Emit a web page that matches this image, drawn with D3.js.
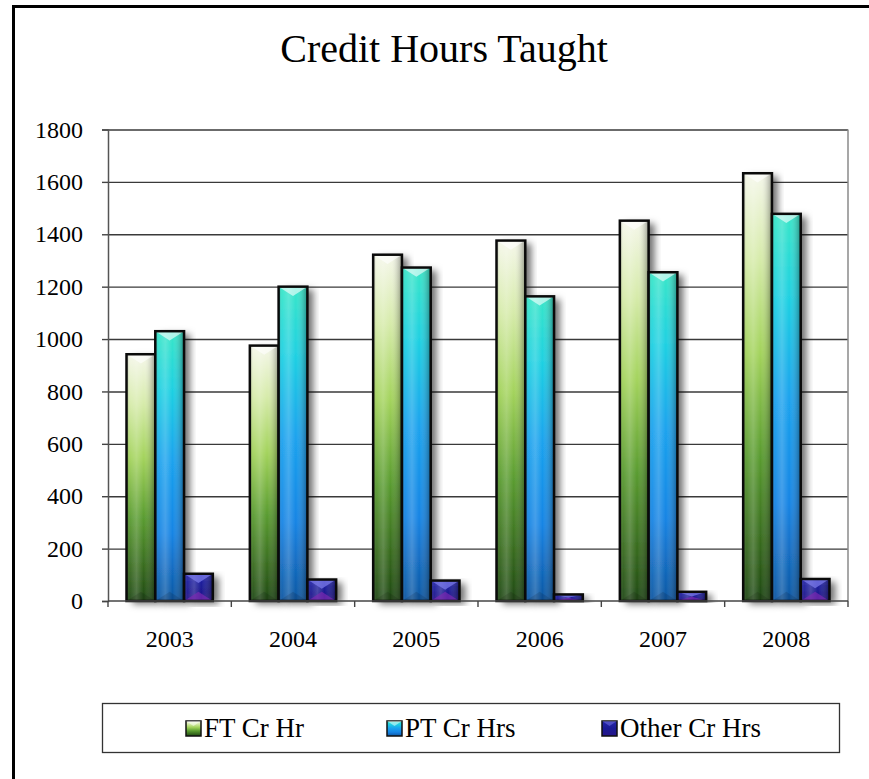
<!DOCTYPE html>
<html><head><meta charset="utf-8">
<script src="https://cdn.jsdelivr.net/npm/d3@7"></script>
<style>
html,body{margin:0;padding:0;background:#fff;}
svg{display:block;}
text{font-family:"Liberation Serif","DejaVu Serif",serif;fill:#000;}
</style></head>
<body>
<svg id="chart" width="869" height="779"></svg>
<script>
const years = ["2003","2004","2005","2006","2007","2008"];
const seriesNames = ["FT Cr Hr","PT Cr Hrs","Other Cr Hrs"];
const ftValues = [942, 975, 1322, 1376, 1452, 1633];
const ptValues = [1030, 1200, 1273, 1163, 1255, 1478];
const otherValues = [104, 82, 78, 25, 35, 84];
const yTicks = [0,200,400,600,800,1000,1200,1400,1600,1800];

const allValues = [ftValues, ptValues, otherValues];
const svg = d3.select("#chart");
const W = 869, H = 779;
const plot = {left:108, right:848, top:129.5, bottom:601};

const defs = svg.append("defs");
const grads = [
  {id:"g0", stops:[[0,"#f5f7ea"],[0.2,"#d6ebaa"],[0.42,"#a3d35c"],[0.66,"#5a9c30"],[1,"#1f4812"]]},
  {id:"g1", stops:[[0,"#38e6c8"],[0.22,"#1fd0e2"],[0.48,"#1aa2ee"],[0.75,"#1684e4"],[1,"#0e56a2"]]},
  {id:"g2", stops:[[0,"#2626aa"],[0.5,"#1a1a94"],[1,"#26168a"]]}
];
grads.forEach(g=>{
  const lg = defs.append("linearGradient").attr("id",g.id).attr("x1",0).attr("y1",0).attr("x2",0).attr("y2",1);
  g.stops.forEach(s=>lg.append("stop").attr("offset",s[0]).attr("stop-color",s[1]));
});
const hg = defs.append("linearGradient").attr("id","hshade").attr("x1",0).attr("y1",0).attr("x2",1).attr("y2",0);
[[0,"#000",0.28],[0.12,"#fff",0.05],[0.35,"#fff",0.2],[0.6,"#fff",0.0],[1,"#000",0.38]].forEach(s=>
  hg.append("stop").attr("offset",s[0]).attr("stop-color",s[1]).attr("stop-opacity",s[2]));
const f = defs.append("filter").attr("id","shadow").attr("x","-30%").attr("y","-10%").attr("width","170%").attr("height","130%");
f.append("feDropShadow").attr("dx",6).attr("dy",3).attr("stdDeviation",3.5).attr("flood-color","#000").attr("flood-opacity",0.55);

// outer frame
svg.append("rect").attr("x",13.5).attr("y",6.5).attr("width",W+20).attr("height",H+20)
  .attr("fill","#fff").attr("stroke","#000").attr("stroke-width",3);

// title
svg.append("text").attr("x",444).attr("y",62).attr("text-anchor","middle")
  .attr("font-size",40).text("Credit Hours Taught");

const x0 = d3.scaleBand().domain(years).range([plot.left, plot.right]).padding(0);
const bw = x0.bandwidth();
const x1 = d3.scaleBand().domain(seriesNames).range([bw*0.15, bw*0.85]).padding(0);
const y = d3.scaleLinear().domain([0,1800]).range([plot.bottom, plot.top]);

// gridlines
const grid = svg.append("g").attr("transform",`translate(${plot.left},0)`)
  .call(d3.axisLeft(y).tickValues(yTicks.slice(1)).tickSize(-(plot.right-plot.left)).tickFormat(""));
grid.select(".domain").remove();
grid.selectAll("line").attr("stroke","#3a3a3a").attr("stroke-width",1.4);

svg.append("line").attr("x1",plot.right).attr("x2",plot.right).attr("y1",plot.top).attr("y2",plot.bottom)
  .attr("stroke","#8a8a8a").attr("stroke-width",1.5);

// y axis
const ya = svg.append("g").attr("transform",`translate(${plot.left},0)`)
  .call(d3.axisLeft(y).tickValues(yTicks).tickSize(6).tickPadding(19).tickFormat(d3.format("d")));
ya.select(".domain").attr("stroke","#555").attr("stroke-width",1.5);
ya.selectAll(".tick line").attr("stroke","#444").attr("stroke-width",1.4);
ya.selectAll("text").attr("font-size",24).style("font-family","'Liberation Serif', serif").attr("fill","#000");

// bars
const bars = svg.append("g");
seriesNames.forEach((s,si)=>{
  const vals = allValues[si];
  years.forEach((yr,i)=>{
    const v = vals[i];
    const bx = x0(yr) + x1(s), bwid = x1.bandwidth();
    const by = y(v), bh = y(0) - y(v);
    const g = bars.append("g");
    g.append("rect").attr("x",bx).attr("y",by).attr("width",bwid).attr("height",bh)
      .attr("fill",`url(#g${si})`).attr("filter","url(#shadow)");
    g.append("rect").attr("x",bx).attr("y",by).attr("width",bwid).attr("height",bh)
      .attr("fill","url(#hshade)");
    const b = Math.min(bwid*0.32, bh/2);
    g.append("polygon").attr("points",[[bx,by],[bx+bwid,by],[bx+bwid/2,by+b]].map(p=>p.join(",")).join(" "))
      .attr("fill", si===2 ? "#7a7ae8" : "#ffffff").attr("opacity", si===2?0.75:0.6);
    g.append("polygon").attr("points",[[bx,by+bh],[bx+bwid,by+bh],[bx+bwid/2,by+bh-b]].map(p=>p.join(",")).join(" "))
      .attr("fill", si===2 ? "#7a2ab0" : "#000").attr("opacity", si===2?0.7:0.12);
    g.append("rect").attr("x",bx).attr("y",by).attr("width",bwid).attr("height",bh)
      .attr("fill","none").attr("stroke","#0a0a0a").attr("stroke-width",2.5);
  });
});

// x axis
svg.append("line").attr("x1",plot.left).attr("x2",plot.right).attr("y1",plot.bottom).attr("y2",plot.bottom)
  .attr("stroke","#444").attr("stroke-width",1.5);
const bounds = years.map(d=>x0(d)).concat([plot.right]);
svg.append("g").selectAll("line").data(bounds).join("line")
  .attr("x1",d=>d).attr("x2",d=>d).attr("y1",plot.bottom).attr("y2",plot.bottom+6)
  .attr("stroke","#444").attr("stroke-width",1.4);
const xa = svg.append("g").attr("transform",`translate(0,${plot.bottom})`)
  .call(d3.axisBottom(x0).tickSize(0).tickPadding(29));
xa.select(".domain").remove();
xa.selectAll("text").attr("font-size",24).style("font-family","'Liberation Serif', serif").attr("fill","#000");

// legend
const lg = svg.append("g");
lg.append("rect").attr("x",102.5).attr("y",703.5).attr("width",737).attr("height",49)
  .attr("fill","#fff").attr("stroke","#333").attr("stroke-width",1.3);
const legX = [186, 387, 602];
seriesNames.forEach((s,i)=>{
  const gx = legX[i], gy = 721;
  lg.append("rect").attr("x",gx).attr("y",gy).attr("width",15).attr("height",15)
    .attr("fill",`url(#g${i})`).attr("stroke","#111").attr("stroke-width",1.5);
  lg.append("polygon").attr("points",[[gx,gy],[gx+15,gy],[gx+7.5,gy+5]].map(p=>p.join(",")).join(" "))
    .attr("fill", i===2?"#7a7ae8":"#fff").attr("opacity",0.5);
  lg.append("text").attr("x",gx+18).attr("y",gy+15.5).attr("font-size",27).text(s);
});
</script>
</body></html>
